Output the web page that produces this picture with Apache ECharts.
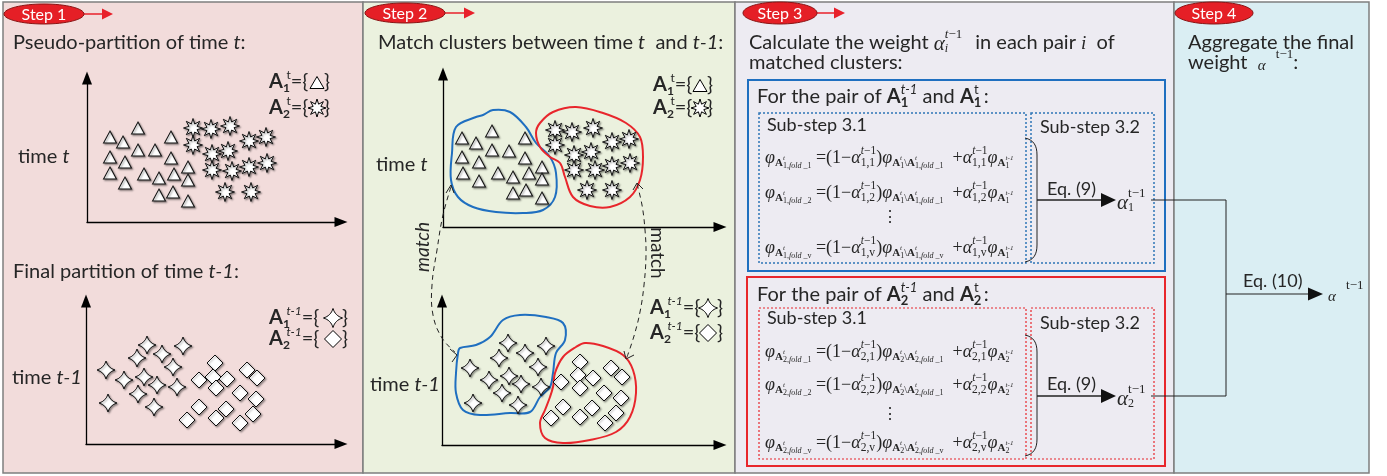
<!DOCTYPE html>
<html><head><meta charset="utf-8">
<script src="https://cdn.jsdelivr.net/npm/echarts@6/dist/echarts.min.js"></script>
<style>html,body{margin:0;padding:0;background:#fff}#c{width:1387px;height:476px}</style>
</head><body><div id="c"></div>
<script>
// ---------------- DATA (pixel offsets from each plot's origin) ----------------
const p1Triangles = [[23,85],[36,80],[51,94],[23,65],[38,60],[51,72],[68,72],[84,85],[84,64],[23,49],[38,39],[57,48],[72,44],[87,48],[101,55],[101,42],[72,27],[86,30],[101,21]];
const p1Stars8 = [[106,94],[124,93],[143,96],[106,77],[125,68],[141,71],[162,81],[179,85],[125,52],[145,51],[162,55],[180,59],[138,30],[164,30]];
const p1Stars4 = [[61,99],[97,98],[51,86],[76,90],[20,74],[87,77],[38,64],[58,67],[71,59],[91,57],[52,50],[22,41],[68,37]];
const p1Diamonds = [[129,81],[161,74],[113,64],[127,67],[141,65],[171,66],[130,56],[154,51],[170,45],[113,37],[140,35],[101,24],[130,26],[167,30],[154,21]];
const p2Triangles = [[19,89],[33,84],[49,96],[19,70],[36,65],[49,77],[66,76],[82,89],[82,69],[20,54],[36,46],[55,54],[70,50],[86,54],[99,60],[99,48],[70,34],[83,37],[99,29]];
const p2Stars8 = [[112,97],[129,95],[150,99],[112,82],[131,72],[148,75],[169,85],[186,88],[131,57],[152,57],[169,61],[187,64],[144,37],[169,37]];
const p2Stars4 = [[66,102],[104,99],[57,87],[83,92],[28,77],[96,78],[47,65],[67,69],[79,61],[99,58],[60,52],[31,42],[76,40]];
const p2Diamonds = [[138,83],[169,77],[119,63],[136,70],[151,67],[180,68],[138,57],[162,52],[179,47],[121,38],[150,37],[109,27],[138,28],[174,32],[163,22]];
const topBlueOutline = [[13,100],[33,110],[40,112],[50,117],[67,115],[83,100],[93,84],[107,70],[113,54],[112,30],[100,17],[80,14],[53,15],[30,20],[15,30],[8,47],[9,74]];
const topRedOutline = [[97,104],[110,115],[133,120],[160,114],[183,104],[197,90],[200,70],[197,47],[187,30],[167,20],[147,21],[130,30],[122,50],[117,64],[107,70],[97,80],[93,94]];
const botBlueOutline = [[18,97],[34,100],[48,108],[61,125],[78,130],[104,128],[121,122],[123,105],[114,92],[111,72],[108,58],[98,48],[88,33],[68,32],[38,30],[21,35],[14,52],[14,72],[16,92]];
const botRedOutline = [[113,72],[121,88],[134,98],[143,102],[161,99],[181,90],[191,75],[194,52],[188,28],[174,13],[148,5],[121,2],[103,7],[98,22],[103,35],[108,48],[111,58]];
const stepLabels = ['Step 1','Step 2','Step 3','Step 4'];

// ---------------- helpers ----------------
const SANS = 'Lato', SERIF = 'Liberation Serif', INK = '#262626';
const LH = 30;
function st(fam, size, dy, it, bd, col){
  return {fontFamily:fam, fontSize:size, fontStyle:it?'italic':'normal', fontWeight:bd?'bold':'normal',
    fill:col||INK, verticalAlign:'bottom', lineHeight:LH, padding:[0,0,Math.max(0,LH/2-dy-size/2),0]};
}
const baseRich = {
  n:st(SANS,20,0), ni:st(SANS,20,0,true), b:st(SANS,20,0,false,true),
  sb:st(SANS,13,6,false,true), sp:st(SANS,13,-7), spi:st(SANS,13,-7,true),
  ln:st(SANS,20,0), lb:st(SANS,20,0,false,true), lsb:st(SANS,12,6,false,true), lsp:st(SANS,12,-7), lspi:st(SANS,12,-7,true),
  m:st(SANS,18,0),
  ga:st(SERIF,21,1,true), gi:st(SERIF,19,1,true), gsp:st(SERIF,13,-8,false), gspi:st(SERIF,13,-8,true), gsb:st(SERIF,12,6,true), gsbn:st(SERIF,12,6,false),
  sa:st(SERIF,15,3,true),
  f:st(SERIF,18,0), fi:st(SERIF,18,0,true), up:st(SERIF,11.5,-7), upi:st(SERIF,11.5,-7,true), dn:st(SERIF,11.5,5),
  A:st(SERIF,11,5,false,true), At:st(SERIF,7,0,true), Ab:st(SERIF,8,8), Abi:st(SERIF,8,8,true), bs:st(SERIF,10,5)
};
const rich = {};
for (const k in baseRich){
  rich[k]=baseRich[k];
  rich[k+'z']=Object.assign({},baseRich[k],{width:0.1});
  rich[k+'w']=Object.assign({},baseRich[k],{width:3.5});
}
const rt = tokens => tokens.map(t=>'{'+t[0]+'|'+t[1]+'}').join('');
function txt(x,y,text){
  return {type:'text', x:x, y:y, z:20, silent:true, style:{text:text, rich:rich, fill:INK, font:'19px '+SANS,
    textAlign:'left', align:'left', textVerticalAlign:'middle', verticalAlign:'middle'}};
}
function plain(x,y,text,font,extra){
  return Object.assign({type:'text', x:x, y:y, z:20, silent:true, style:{text:text, fill:INK, font:font,
    textAlign:'left', align:'left', textVerticalAlign:'middle', verticalAlign:'middle'}}, extra||{});
}
function fLine(k, fs, f2, a){
  return rt([
    ['fi','φ'],['A','A'],['Atz','t'],['Ab',k+','],['Abi','fold'],['Ab',' _'+fs],
    ['f',' =(1−'],['fi','α'],['dnz',k+','+a],['upi','t'],['up','−1'],['f',')'],
    ['fi','φ'],['A','A'],['Atz','t'],['Ab',k],['bs','\\'],['A','A'],['Atz','t'],['Ab',k+','],['Abi','fold'],['Ab',' _'+f2],
    ['f','  +'],['fi','α'],['dnz',k+','+a],['upi','t'],['up','−1'],
    ['fi','φ'],['A','A'],['Abz',k],['At','t-1']
  ]);
}
const STAR8 = (()=>{let s='';for(let k=0;k<16;k++){const a=k*Math.PI/8-Math.PI/2,r=k%2?4.6:10;s+=(k?'L':'M')+(r*Math.cos(a)).toFixed(2)+','+(r*Math.sin(a)).toFixed(2);}return 'path://'+s+'Z';})();
const STAR4 = 'path://M0,-10Q2.2,-2.2 10,0Q2.2,2.2 0,10Q-2.2,2.2 -10,0Q-2.2,-2.2 0,-10Z';
function star8Pts(cx,cy,R){const p=[];for(let k=0;k<16;k++){const a=k*Math.PI/8-Math.PI/2,r=k%2?R*0.46:R;p.push([cx+r*Math.cos(a),cy+r*Math.sin(a)]);}return p;}
function star4Pts(cx,cy,r,c){
  const corners=[[0,-r],[r,0],[0,r],[-r,0]], ctrl=[[c,-c],[c,c],[-c,c],[-c,-c]], p=[];
  for(let i=0;i<4;i++){const a=corners[i],b=corners[(i+1)%4],q=ctrl[i];
    for(let s=0;s<8;s++){const t=s/8;p.push([cx+(1-t)*(1-t)*a[0]+2*(1-t)*t*q[0]+t*t*b[0], cy+(1-t)*(1-t)*a[1]+2*(1-t)*t*q[1]+t*t*b[1]]);}}
  return p;
}
const iconStyle = {fill:'#fff', stroke:'#000', lineWidth:1};
function iconTri(cx,cy){return {type:'polygon', z:20, silent:true, shape:{points:[[cx,cy-6.5],[cx+7,cy+5.5],[cx-7,cy+5.5]]}, style:iconStyle};}
function iconStar8(cx,cy){return {type:'polygon', z:20, silent:true, shape:{points:star8Pts(cx,cy,9)}, style:iconStyle};}
function iconStar4(cx,cy){return {type:'polygon', z:20, silent:true, shape:{points:star4Pts(cx,cy,9.5,2.2)}, style:iconStyle};}
function iconDiamond(cx,cy){const r=8.5;return {type:'polygon', z:20, silent:true, shape:{points:[[cx,cy-r],[cx+r,cy],[cx,cy+r],[cx-r,cy]]}, style:iconStyle};}
const close = (x,y)=>plain(x,y,'}','20px '+SANS);

// ---------------- grids / axes ----------------
const grids = [
  {left:87, top:78, width:254, height:144},
  {left:86, top:301, width:255, height:143},
  {left:443, top:74, width:277, height:153},
  {left:442, top:301, width:278, height:144}
];
function axisOpt(i, max){
  return {gridIndex:i, type:'value', min:0, max:max, z:5,
    axisLine:{show:true, onZero:false, symbol:['none','triangle'], symbolSize:[10,13], lineStyle:{color:'#000', width:1.3}},
    axisTick:{show:false}, axisLabel:{show:false}, splitLine:{show:false}};
}
const markStyle = {color:'#ffffff', opacity:1, borderColor:'#111', borderWidth:1, shadowBlur:2, shadowColor:'rgba(0,0,0,0.4)', shadowOffsetX:1.2, shadowOffsetY:1.2};
function sc(i, data, symbol, size){
  return {type:'scatter', xAxisIndex:i, yAxisIndex:i, data:data, symbol:symbol, symbolSize:size, itemStyle:markStyle, silent:true, z:3};
}
function outline(i, pts, color){
  return {type:'custom', xAxisIndex:i, yAxisIndex:i, data:[[0,0]], silent:true, z:2, clip:false,
    renderItem:(params, api)=>({type:'polygon', shape:{points:pts.map(p=>api.coord(p)), smooth:0.35},
      style:{fill:'none', stroke:color, lineWidth:2}})};
}
const BLUE = '#1f6fc0', RED = '#e8262c';

// ---------------- graphics ----------------
const g = [];
const panels = [[3,363,'#f2dcdb'],[363,735,'#ebf1de'],[735,1174,'#edebf2'],[1174,1369,'#daeef3']];
panels.forEach(p=>g.push({type:'rect', z:-10, silent:true, shape:{x:p[0], y:2, width:p[1]-p[0], height:471}, style:{fill:p[2], stroke:'#7f7f7f', lineWidth:1.5}}));
const stepPos = [[44,14,40,10,113],[405,13,40,10,475],[780,13,37,11,845],[1214,13,39,11,null]];
stepPos.forEach((s,i)=>{
  if (s[4]) {
    g.push({type:'line', z:20, silent:true, shape:{x1:s[0]+s[2], y1:s[1], x2:s[4]-9, y2:s[1]}, style:{stroke:'#e8202a', lineWidth:1.5}});
    g.push({type:'polygon', z:20, silent:true, shape:{points:[[s[4]-11,s[1]-5.5],[s[4],s[1]],[s[4]-11,s[1]+5.5]]}, style:{fill:'#e8202a'}});
  }
  g.push({type:'ellipse', z:20, silent:true, shape:{cx:s[0], cy:s[1], rx:s[2], ry:s[3]}, style:{fill:'#e51f26', stroke:'#8a1414', lineWidth:1}});
  g.push({type:'text', z:21, silent:true, x:s[0], y:s[1]+1, style:{text:stepLabels[i], fill:'#fff', font:'16px '+SANS, textAlign:'center', align:'center', textVerticalAlign:'middle', verticalAlign:'middle'}});
});
// panel 1
g.push(txt(13,43, rt([['n','Pseudo-partition of time '],['ni','t'],['n',':']])));
g.push(txt(18,157, rt([['n','time '],['ni','t']])));
g.push(txt(269,82, rt([['lb','A'],['lsbw','1'],['lsp','t'],['ln','={']])));  g.push(iconTri(317,83));   g.push(close(324,82));
g.push(txt(269,108, rt([['lb','A'],['lsbw','2'],['lsp','t'],['ln','={']]))); g.push(iconStar8(317,108)); g.push(close(324,108));
g.push(txt(13,272, rt([['n','Final partition of time '],['ni','t-1'],['n',':']])));
g.push(txt(12,378, rt([['n','time '],['ni','t-1']])));
g.push(txt(269,318, rt([['lb','A'],['lsbw','1'],['lspi','t-1'],['ln','={']]))); g.push(iconStar4(333,318)); g.push(close(342,318));
g.push(txt(269,339, rt([['lb','A'],['lsbw','2'],['lspi','t-1'],['ln','={']]))); g.push(iconDiamond(333,339)); g.push(close(342,339));
// panel 2
g.push(txt(378,43, rt([['n','Match clusters between time '],['ni','t'],['n','  and '],['ni','t-1'],['n',':']])));
g.push(txt(376,165, rt([['n','time '],['ni','t']])));
g.push(txt(370,385, rt([['n','time '],['ni','t-1']])));
g.push(txt(653,85, rt([['lb','A'],['lsbw','1'],['lsp','t'],['ln','={']]))); g.push(iconTri(700,86)); g.push(close(707,85));
g.push(txt(653,108, rt([['lb','A'],['lsbw','2'],['lsp','t'],['ln','={']]))); g.push(iconStar8(700,108)); g.push(close(707,108));
g.push(txt(650,308, rt([['lb','A'],['lsbw','1'],['lspi','t-1'],['ln','={']]))); g.push(iconStar4(708,308)); g.push(close(717,308));
g.push(txt(650,333, rt([['lb','A'],['lsbw','2'],['lspi','t-1'],['ln','={']]))); g.push(iconDiamond(708,333)); g.push(close(717,333));
// match arrows
const dash = {stroke:'#222', lineWidth:1, lineDash:[5,4], fill:'none'};
const solid = {stroke:'#222', lineWidth:1, fill:'none'};
g.push({type:'polyline', z:20, silent:true, shape:{points:[[451,187],[443,215],[437,250],[432,285],[433,315],[442,338],[455,352]], smooth:0.4}, style:dash});
g.push({type:'polyline', z:20, silent:true, shape:{points:[[446,193],[451,185],[454,193]]}, style:solid});
g.push({type:'polyline', z:20, silent:true, shape:{points:[[450,349],[457,355],[452,362]]}, style:solid});
g.push({type:'polyline', z:20, silent:true, shape:{points:[[637,184],[642,205],[645,230],[646,255],[644,285],[640,312],[634,336],[627,357]], smooth:0.4}, style:dash});
g.push({type:'polyline', z:20, silent:true, shape:{points:[[633,190],[637,183],[643,189]]}, style:solid});
g.push({type:'polyline', z:20, silent:true, shape:{points:[[624,351],[626,359],[634,355]]}, style:solid});
g.push(plain(423,247,'match','italic 19px '+SANS,{rotation:Math.PI/2, style:{text:'match', fill:INK, font:'italic 19px '+SANS, textAlign:'center', align:'center', textVerticalAlign:'middle', verticalAlign:'middle'}}));
g.push(plain(657,253,'match','19px '+SANS,{rotation:-Math.PI/2, style:{text:'match', fill:INK, font:'19px '+SANS, textAlign:'center', align:'center', textVerticalAlign:'middle', verticalAlign:'middle'}}));
// panel 3
g.push(txt(749,43, rt([['n','Calculate the weight '],['ga','α'],['gsbz','i'],['gspi','t'],['gsp','−1    '],['n','in each pair '],['gi','i'],['n','  of']])));
g.push(txt(749,63, rt([['n','matched clusters:']])));
const boxes = [
  [748,80,417,191,BLUE,2,null],[759,113,267,150,'#2e75b6',1.5,[2,2]],[1031,113,123,150,'#2e75b6',1.5,[2,2]],
  [747,277,418,189,RED,2,null],[759,308,267,151,RED,1.2,[2,2]],[1031,308,123,151,RED,1.2,[2,2]]
];
boxes.forEach(b=>g.push({type:'rect', z:15, silent:true, shape:{x:b[0],y:b[1],width:b[2],height:b[3]}, style:{fill:'none', stroke:b[4], lineWidth:b[5], lineDash:b[6]||null}}));
[[1,97,138,262,200,189,'1'],[2,295,335,456,396,384,'2']].forEach(q=>{
  const k=q[6];
  g.push(txt(757,q[1], rt([['n','For the pair of '],['b','A'],['sbz',k],['spi','t-1'],['n',' and '],['b','A'],['sbz',k],['sp','t'],['n',' :']])));
  const ys = k==='1' ? [158,193,218,248] : [352,385,415,443];
  g.push(txt(767, k==='1'?125:318, rt([['m','Sub-step 3.1']])));
  g.push(txt(1040, k==='1'?127:323, rt([['m','Sub-step 3.2']])));
  g.push(txt(765, ys[0], fLine(k,'1','1','1')));
  g.push(txt(765, ys[1], fLine(k,'2','1','2')));
  g.push(plain(890, ys[2], '⋮', '16px DejaVu Serif', {style:{text:'⋮', fill:INK, font:'16px DejaVu Serif', textAlign:'center', align:'center', textVerticalAlign:'middle', verticalAlign:'middle'}}));
  g.push(txt(765, ys[3], fLine(k,'v','v','v')));
  // brace
  const t=q[2], bt=q[3];
  g.push({type:'bezierCurve', z:20, silent:true, shape:{x1:1025,y1:t,cpx1:1034,cpy1:t+2,cpx2:1037,cpy2:t+8,x2:1037,y2:t+17}, style:solid});
  g.push({type:'line', z:20, silent:true, shape:{x1:1037,y1:t+17,x2:1037,y2:bt-17}, style:solid});
  g.push({type:'bezierCurve', z:20, silent:true, shape:{x1:1037,y1:bt-17,cpx1:1037,cpy1:bt-8,cpx2:1034,cpy2:bt-2,x2:1025,y2:bt}, style:solid});
  // arrow
  g.push({type:'line', z:20, silent:true, shape:{x1:1037,y1:q[4],x2:1104,y2:q[4]}, style:{stroke:'#222', lineWidth:1.5}});
  g.push({type:'polygon', z:20, silent:true, shape:{points:[[1101,q[4]-7],[1116,q[4]],[1101,q[4]+7]]}, style:{fill:'#111'}});
  g.push(txt(1047,q[5], rt([['m','Eq. (9)']])));
  g.push(txt(1117,q[4]+2, rt([['ga','α'],['gsbnz',k],['gsp','t−1']])));
});
// panel 4
g.push(txt(1188,43, rt([['n','Aggregate the final']])));
g.push(txt(1188,63, rt([['n','weight  '],['sa','α'],['n','  '],['gsp','t−1'],['n',':']])));
g.push({type:'polyline', z:20, silent:true, shape:{points:[[1151,200],[1226,200],[1226,396],[1151,396]]}, style:solid});
g.push({type:'line', z:20, silent:true, shape:{x1:1226,y1:294,x2:1311,y2:294}, style:{stroke:'#222', lineWidth:1.2}});
g.push({type:'polygon', z:20, silent:true, shape:{points:[[1308,287.5],[1323,294],[1308,300.5]]}, style:{fill:'#111'}});
g.push(txt(1243,281, rt([['m','Eq. (10)']])));
g.push(txt(1328,294, rt([['sa','α'],['n','  '],['gsp','t−1']])));

// ---------------- chart ----------------
const chart = echarts.init(document.getElementById('c'), null, {renderer:'canvas'});
chart.setOption({
  animation:false,
  backgroundColor:'#ffffff',
  grid: grids.map(gr=>Object.assign({outerBoundsMode:'none', containLabel:false, show:false}, gr)),
  xAxis: grids.map((gr,i)=>axisOpt(i, gr.width)),
  yAxis: grids.map((gr,i)=>axisOpt(i, gr.height)),
  series: [
    outline(2, topBlueOutline, BLUE), outline(2, topRedOutline, RED),
    outline(3, botBlueOutline, BLUE), outline(3, botRedOutline, RED),
    sc(0, p1Triangles, 'triangle', [13,12]), sc(0, p1Stars8, STAR8, 19),
    sc(1, p1Stars4, STAR4, 18), sc(1, p1Diamonds, 'diamond', [16,16]),
    sc(2, p2Triangles, 'triangle', [13,12]), sc(2, p2Stars8, STAR8, 19),
    sc(3, p2Stars4, STAR4, 18), sc(3, p2Diamonds, 'diamond', [16,16])
  ],
  graphic: {elements: g}
});
</script></body></html>
